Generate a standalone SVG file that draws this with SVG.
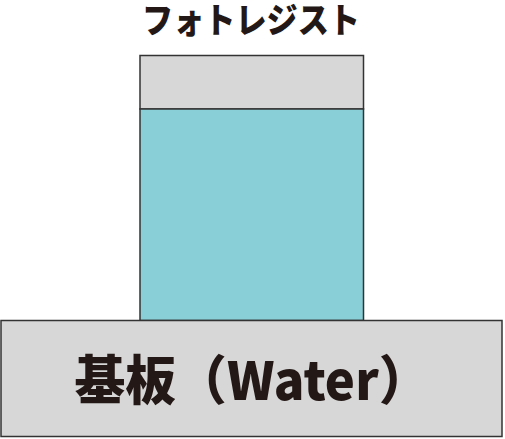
<svg xmlns="http://www.w3.org/2000/svg" width="505" height="439" viewBox="0 0 505 439">
<style>
.box{stroke:#333;stroke-width:1.5}
.gray{fill:#d7d7d7}
.blue{fill:#89cfd8}
.t{font-family:"Noto Sans CJK JP","Noto Sans",sans-serif;font-weight:900;fill:#231815;text-anchor:middle}
</style>
<rect width="505" height="439" fill="#fff"/>
<g id="resist">
<rect class="box gray" x="140" y="55.5" width="223.5" height="53.5"/>
<rect class="box blue" x="140" y="109" width="223.5" height="211.5"/>
</g>
<g id="substrate">
<rect class="box gray" x="1" y="320.5" width="501" height="116"/>
<text class="t" x="252" y="400" font-size="53" textLength="355" lengthAdjust="spacingAndGlyphs">基板（Water）</text>
</g>
<g id="label">
<text class="t" x="251" y="33" font-size="35" textLength="218" lengthAdjust="spacingAndGlyphs">フォトレジスト</text>
</g>
<g id="connectors"/>
</svg>
